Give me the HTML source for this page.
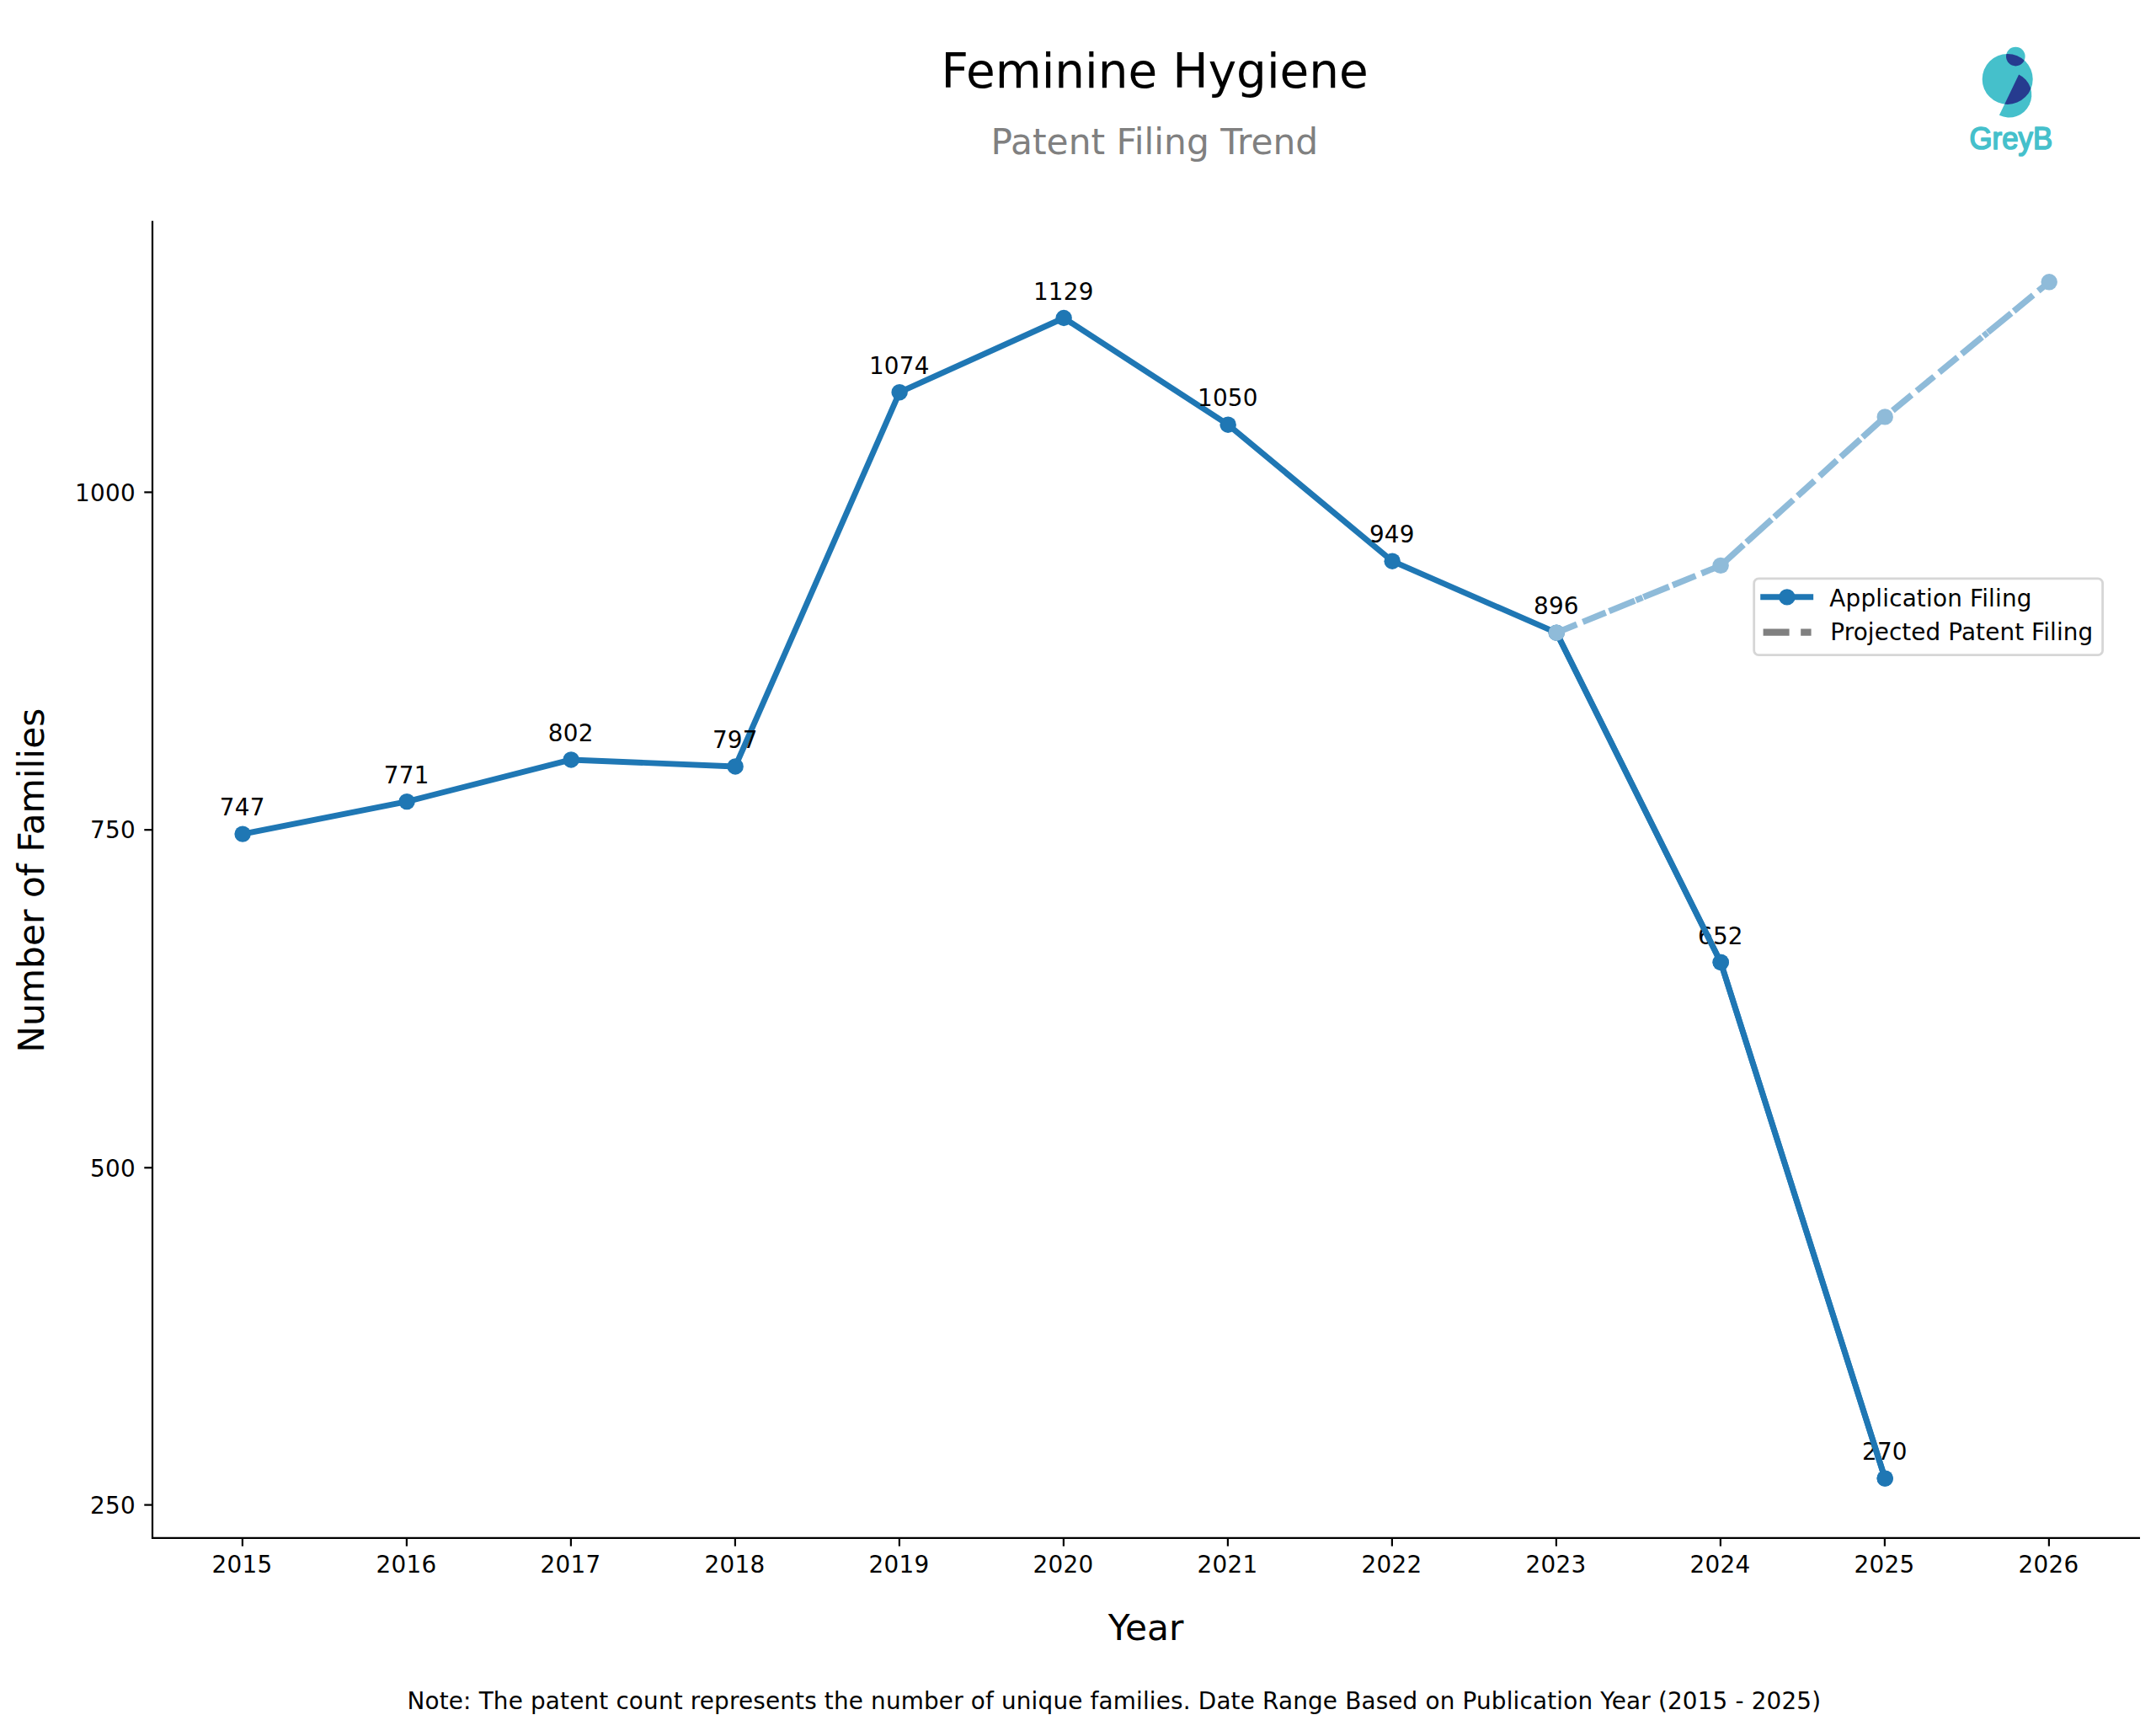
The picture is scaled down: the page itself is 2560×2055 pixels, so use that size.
<!DOCTYPE html>
<html lang="en">
<head>
<meta charset="utf-8">
<title>Feminine Hygiene - Patent Filing Trend</title>
<style>
html,body{margin:0;padding:0;background:#fff;}
body{width:2560px;height:2055px;overflow:hidden;}
svg{display:block;}
svg text{font-family:"DejaVu Sans","Liberation Sans",sans-serif;fill:#000;}
.t10{font-size:27.85px;}
.dg{letter-spacing:0.3px;}
.dg2{letter-spacing:0.25px;}
.t15{font-size:42.35px;}
.t20{font-size:56.45px;}
.mid{text-anchor:middle;}
.end{text-anchor:end;}
</style>
</head>
<body>
<svg width="2560" height="2055" viewBox="0 0 2560 2055">
<rect x="0" y="0" width="2560" height="2055" fill="#ffffff"/>
<g id="titles">
<text class="t20 mid" x="1371.2" y="103.9">Feminine Hygiene</text>
<text class="t15 mid" x="1370.8" y="182.5" style="fill:#808080">Patent Filing Trend</text>
</g>
<g id="logo">
<circle cx="2383.7" cy="93.9" r="30" fill="#45c0cb"/>
<circle cx="2393.3" cy="67.1" r="11.3" fill="#45c0cb"/>
<path d="M2397.11,88.54 A26.8,26.8 0 0 1 2373.89,136.86 Z" fill="#45c0cb"/>
<clipPath id="cBig"><circle cx="2383.7" cy="93.9" r="30"/></clipPath>
<path d="M2397.11,88.54 A26.8,26.8 0 0 1 2373.89,136.86 Z" fill="#263b8f" clip-path="url(#cBig)"/>
<circle cx="2393.3" cy="67.1" r="11.3" fill="#263b8f" clip-path="url(#cBig)"/>
<text x="2387.8" y="176.6" class="mid" textLength="98.6" lengthAdjust="spacingAndGlyphs" style="font-family:'Liberation Sans',sans-serif;font-weight:400;font-size:37.3px;fill:#45c0cb;stroke:#45c0cb;stroke-width:1.7;stroke-linejoin:round;stroke-linecap:round">GreyB</text>
</g>
<g id="axes" stroke="#000" stroke-width="2.22" fill="none" stroke-linecap="square">
<path d="M181.0,263.4 L181.0,1825.9 L2539.9,1825.9" stroke-linejoin="miter"/>
</g>
<g id="ticks" stroke="#000" stroke-width="2.22" stroke-linecap="butt">
<line x1="287.90" y1="1825.9" x2="287.90" y2="1835.62"/>
<line x1="482.90" y1="1825.9" x2="482.90" y2="1835.62"/>
<line x1="677.90" y1="1825.9" x2="677.90" y2="1835.62"/>
<line x1="872.90" y1="1825.9" x2="872.90" y2="1835.62"/>
<line x1="1067.90" y1="1825.9" x2="1067.90" y2="1835.62"/>
<line x1="1262.90" y1="1825.9" x2="1262.90" y2="1835.62"/>
<line x1="1457.90" y1="1825.9" x2="1457.90" y2="1835.62"/>
<line x1="1652.90" y1="1825.9" x2="1652.90" y2="1835.62"/>
<line x1="1847.90" y1="1825.9" x2="1847.90" y2="1835.62"/>
<line x1="2042.90" y1="1825.9" x2="2042.90" y2="1835.62"/>
<line x1="2237.90" y1="1825.9" x2="2237.90" y2="1835.62"/>
<line x1="2432.90" y1="1825.9" x2="2432.90" y2="1835.62"/>
<line x1="181.0" y1="1786.60" x2="171.28" y2="1786.60"/>
<line x1="181.0" y1="1386.30" x2="171.28" y2="1386.30"/>
<line x1="181.0" y1="985.20" x2="171.28" y2="985.20"/>
<line x1="181.0" y1="584.40" x2="171.28" y2="584.40"/>
</g>
<g id="ticklabels" class="t10 dg">
<text class="mid" x="287.50" y="1866.9">2015</text>
<text class="mid" x="482.50" y="1866.9">2016</text>
<text class="mid" x="677.50" y="1866.9">2017</text>
<text class="mid" x="872.50" y="1866.9">2018</text>
<text class="mid" x="1067.50" y="1866.9">2019</text>
<text class="mid" x="1262.50" y="1866.9">2020</text>
<text class="mid" x="1457.50" y="1866.9">2021</text>
<text class="mid" x="1652.50" y="1866.9">2022</text>
<text class="mid" x="1847.50" y="1866.9">2023</text>
<text class="mid" x="2042.50" y="1866.9">2024</text>
<text class="mid" x="2237.50" y="1866.9">2025</text>
<text class="mid" x="2432.50" y="1866.9">2026</text>
<text class="end" x="161.0" y="1797.10">250</text>
<text class="end" x="161.0" y="1396.60">500</text>
<text class="end" x="161.0" y="995.00">750</text>
<text class="end" x="161.0" y="595.20">1000</text>
</g>
<text class="t15 mid" x="1360.5" y="1947.3">Year</text>
<text class="t15 mid" transform="translate(51.9,1045.2) rotate(-90)">Number of Families</text>
<polyline id="line-actual" points="288.10,990.12 483.11,951.63 678.12,901.92 873.13,909.94 1068.14,465.70 1263.15,377.50 1458.16,504.19 1653.17,666.17 1848.18,751.17 2043.19,1142.47 2238.20,1755.10" fill="none" stroke="#1f77b4" stroke-width="6.94" stroke-linejoin="round" stroke-linecap="square"/>
<g id="markers-actual" fill="#1f77b4">
<circle cx="288.10" cy="990.12" r="9.72"/>
<circle cx="483.11" cy="951.63" r="9.72"/>
<circle cx="678.12" cy="901.92" r="9.72"/>
<circle cx="873.13" cy="909.94" r="9.72"/>
<circle cx="1068.14" cy="465.70" r="9.72"/>
<circle cx="1263.15" cy="377.50" r="9.72"/>
<circle cx="1458.16" cy="504.19" r="9.72"/>
<circle cx="1653.17" cy="666.17" r="9.72"/>
<circle cx="1848.18" cy="751.17" r="9.72"/>
<circle cx="2043.19" cy="1142.47" r="9.72"/>
<circle cx="2238.20" cy="1755.10" r="9.72"/>
</g>
<g id="datalabels" class="t10 dg2">
<text class="mid" x="287.80" y="968.22">747</text>
<text class="mid" x="482.81" y="929.73">771</text>
<text class="mid" x="677.82" y="880.02">802</text>
<text class="mid" x="872.83" y="888.04">797</text>
<text class="mid" x="1067.84" y="443.80">1074</text>
<text class="mid" x="1262.85" y="355.60">1129</text>
<text class="mid" x="1457.86" y="482.29">1050</text>
<text class="mid" x="1652.87" y="644.27">949</text>
<text class="mid" x="1847.88" y="729.27">896</text>
<text class="mid" x="2042.89" y="1120.57">652</text>
<text class="mid" x="2237.90" y="1733.20">270</text>
</g>
<polyline id="line-actual-top" points="1848.18,751.17 2043.19,1142.47 2238.20,1755.10" fill="none" stroke="#1f77b4" stroke-width="6.94" stroke-linejoin="round" stroke-linecap="butt"/>
<circle cx="2043.19" cy="1142.47" r="9.72" fill="#1f77b4"/>
<circle cx="2238.20" cy="1755.10" r="9.72" fill="#1f77b4"/>
<g id="line-projected" fill="none" stroke="#8fbbd9" stroke-width="7.4" stroke-linecap="butt">
<line x1="1848.18" y1="751.17" x2="2043.10" y2="671.40" stroke-dasharray="26.1 7.6 29.5 4.2 33.1 1.3 8.7 1.0 32.9 4.6 29.5 7.5 24.6"/>
<line x1="2043.10" y1="671.40" x2="2238.20" y2="494.90" stroke-dasharray="36.7 4.5 40.3 4.4 30.4 7.0 26.9 8.2 27.6 6.3 31.3 3.6 35.9"/>
<line x1="2238.20" y1="494.90" x2="2433.20" y2="334.80" stroke-dasharray="7.8 4.1 29.0 7.8 26.8 7.8 28.3 6.3 31.3 2.2 6.0 0.6 36.0 3.9 29.8 7.8 16.8"/>
</g>
<g id="markers-projected" fill="#8fbbd9">
<circle cx="1848.18" cy="751.17" r="9.72"/>
<circle cx="2043.10" cy="671.40" r="9.72"/>
<circle cx="2238.20" cy="494.90" r="9.72"/>
<circle cx="2433.20" cy="334.80" r="9.72"/>
</g>
<g id="legend">
<rect x="2082.7" y="686.8" width="413.9" height="90.9" rx="5.56" ry="5.56" fill="#ffffff" fill-opacity="0.8" stroke="#d6d6d6" stroke-width="2.78"/>
<line x1="2093.7" y1="708.8" x2="2149.7" y2="708.8" stroke="#1f77b4" stroke-width="6.94" stroke-linecap="square"/>
<circle cx="2121.9" cy="708.9" r="9.72" fill="#1f77b4"/>
<line x1="2093.6" y1="750.6" x2="2150.6" y2="750.6" stroke="#808080" stroke-width="8.33" stroke-dasharray="31 13.6"/>
<text class="t10" x="2172.3" y="719.5" textLength="240.2" lengthAdjust="spacing">Application Filing</text>
<text class="t10" x="2173.3" y="760" textLength="311.9" lengthAdjust="spacing">Projected Patent Filing</text>
</g>
<text class="t10" x="483.5" y="2029.4" textLength="1678.6" lengthAdjust="spacing">Note: The patent count represents the number of unique families. Date Range Based on Publication Year (2015 - 2025)</text>
</svg>
</body>
</html>
